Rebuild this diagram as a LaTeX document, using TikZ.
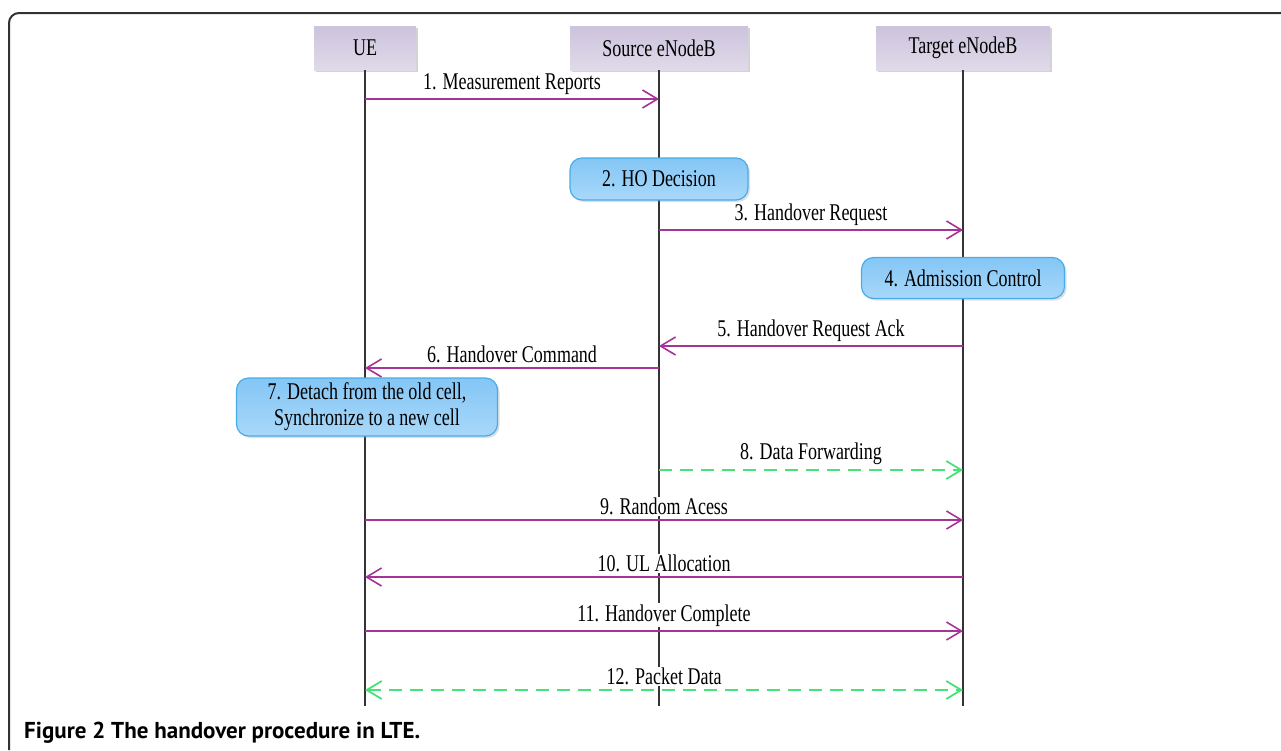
\documentclass[tikz,border=0pt]{standalone}
\usepackage{fontspec}
\setmainfont[FakeStretch=0.75]{Liberation Serif}
\newfontfamily\capfont{PT Sans}
\usetikzlibrary{arrows.meta,shadows}

\definecolor{hdrtop}{RGB}{204,195,220}
\definecolor{hdrbot}{RGB}{224,218,234}
\definecolor{boxtop}{RGB}{132,198,245}
\definecolor{boxbot}{RGB}{168,216,250}
\definecolor{boxedge}{RGB}{72,172,232}
\definecolor{msgcol}{RGB}{165,52,150}
\definecolor{fwdcol}{RGB}{72,226,122}
\definecolor{framecol}{RGB}{50,50,50}

\begin{document}
\begin{tikzpicture}[%
	x=1pt, y=-1pt,%
	font=\fontsize{24}{26}\selectfont,%
	entity/.style ={top color=hdrtop, bottom color=hdrbot, minimum height=44pt, inner sep=0pt,%
		drop shadow={shadow xshift=2pt, shadow yshift=-2pt, opacity=.35}},%
	action/.style ={draw=boxedge, line width=1.2pt, top color=boxtop, bottom color=boxbot,%
		rounded corners=12pt, inner sep=0pt, align=center,%
		drop shadow={shadow xshift=2pt, shadow yshift=-2pt, opacity=.25}},%
	life/.style ={line width=1.6pt, black!80},%
	msg/.style ={line width=1.6pt, msgcol, -{Straight Barb[length=15pt,width=18pt]}},%
	fwd/.style ={line width=1.8pt, fwdcol, dash pattern=on 13pt off 8pt},%
	lbl/.style ={black, fill=white, above=3pt, inner sep=1pt},%
	]
	\useasboundingbox (0,0) rectangle (1281,750);
%%% frame
	\draw [framecol, line width=2pt, rounded corners=10pt] (9,750) -- (9,13) -- (1281,13);
%%% frame
%%% entities
	\node [entity, minimum width=102pt] (ue) at (365,48) {UE};
	\node [entity, minimum width=178pt] (src) at (659,48) {Source eNodeB};
	\node [entity, minimum width=174pt] (tgt) at (963,48) {Target eNodeB};
	\foreach \n in {ue,src,tgt}
		{\coordinate (\n-end) at (\n |- 0,706);
		\draw [life] (\n.south) -- (\n-end);}
%%% entities
%%% actions
	\node [action, minimum width=178pt, minimum height=42pt] (hodec) at (659,179) {2. HO Decision};
	\node [action, minimum width=203pt, minimum height=41pt] (admit) at (963,278) {4. Admission Control};
	\node [action, minimum width=261pt, minimum height=58pt] (detach) at (367,407)
		{7. Detach from the old cell,\\Synchronize to a new cell};
%%% actions
%%% messages
	\foreach \a/\b/\y/\txt in {ue/src/99/{1. Measurement Reports},%
			src/tgt/230/{3. Handover Request},%
			tgt/src/346/{5. Handover Request Ack},%
			src/ue/368/{6. Handover Command},%
			ue/tgt/520/{9. Random Acess},%
			tgt/ue/577/{10. UL Allocation},%
			ue/tgt/631/{11. Handover Complete}}
		{\draw [msg] (\a |- 0,\y) -- (\b |- 0,\y) node [lbl, pos=.5] {\txt};}
	\draw [fwd, -{Straight Barb[length=15pt,width=18pt]}] (src |- 0,470) -- (tgt |- 0,470) node [lbl, pos=.5] {8. Data Forwarding};
	\draw [fwd, {Straight Barb[length=15pt,width=18pt]}-{Straight Barb[length=15pt,width=18pt]}] (ue |- 0,690) -- (tgt |- 0,690) node [lbl, pos=.5] {12. Packet Data};
%%% messages
%%% caption
	\node [anchor=base west, inner sep=0pt, font=\capfont\bfseries\fontsize{23}{25}\selectfont] (caption) at (24,738)
		{Figure 2 The handover procedure in LTE.};
%%% caption
\end{tikzpicture}
\end{document}
